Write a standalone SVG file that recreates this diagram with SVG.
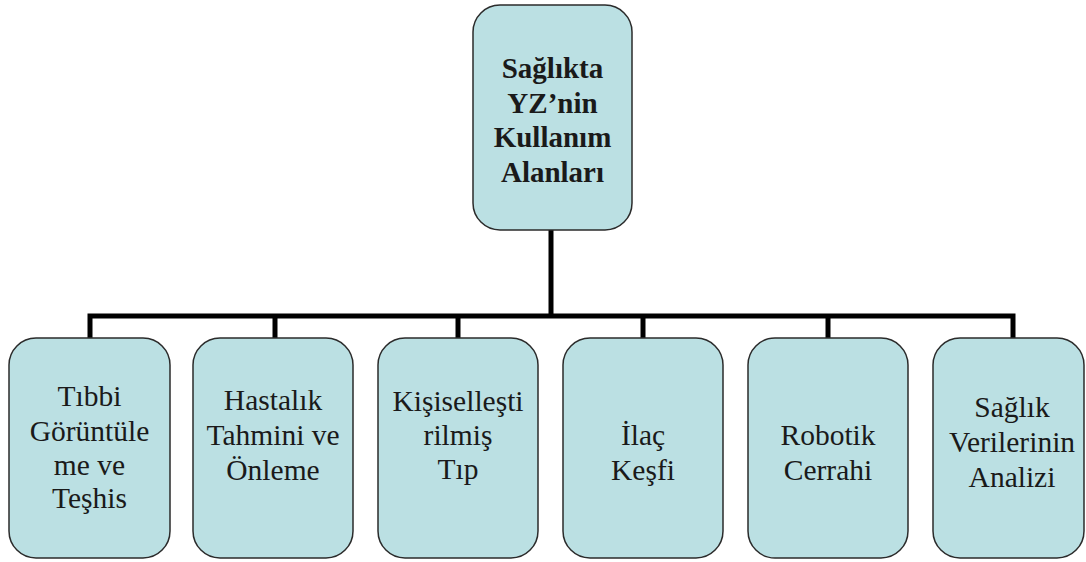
<svg xmlns="http://www.w3.org/2000/svg" width="1086" height="562" viewBox="0 0 1086 562">
  <style>
    .box { fill: #bbe0e3; stroke: #2b2b2b; stroke-width: 1.5; }
    .wire { fill: none; stroke: #000; stroke-width: 5; stroke-linecap: butt; stroke-linejoin: miter; }
    .label { font-family: 'Liberation Serif', 'DejaVu Serif', serif; font-size: 29.5px; fill: #1a1a1a; text-anchor: middle; }
    .title { font-family: 'Liberation Serif', 'DejaVu Serif', serif; font-size: 29px; font-weight: bold; fill: #1a1a1a; text-anchor: middle; }
  </style>

  <!-- connectors: trunk, horizontal bus and drops -->
  <g id="connectors">
    <path class="wire" d="M551 229 V316"/>
    <path class="wire" d="M90 338 V316 H1013 V338"/>
    <path class="wire" d="M275 316 V338"/>
    <path class="wire" d="M458 316 V338"/>
    <path class="wire" d="M643 316 V338"/>
    <path class="wire" d="M828 316 V338"/>
  </g>

  <!-- root node -->
  <g id="root">
    <rect class="box" x="473" y="5" width="159" height="225" rx="27" ry="27"/>
    <text class="title" x="552.5" y="78">Sağlıkta</text>
    <text class="title" x="552.5" y="113">YZ’nin</text>
    <text class="title" x="552.5" y="147">Kullanım</text>
    <text class="title" x="552.5" y="182">Alanları</text>
  </g>

  <g id="goruntuleme">
    <rect class="box" x="9" y="338" width="161" height="220" rx="27" ry="27"/>
    <text class="label" x="89.5" y="406">Tıbbi</text>
    <text class="label" x="89.5" y="441">Görüntüle</text>
    <text class="label" x="89.5" y="475">me ve</text>
    <text class="label" x="89.5" y="508">Teşhis</text>
  </g>

  <g id="hastalik">
    <rect class="box" x="193" y="338" width="160" height="220" rx="27" ry="27"/>
    <text class="label" x="273" y="410">Hastalık</text>
    <text class="label" x="273" y="445">Tahmini ve</text>
    <text class="label" x="273" y="480">Önleme</text>
  </g>

  <g id="kisisel">
    <rect class="box" x="378" y="338" width="160" height="220" rx="27" ry="27"/>
    <text class="label" x="458" y="411">Kişiselleşti</text>
    <text class="label" x="458" y="445">rilmiş</text>
    <text class="label" x="458" y="479">Tıp</text>
  </g>

  <g id="ilac">
    <rect class="box" x="563" y="338" width="160" height="220" rx="27" ry="27"/>
    <text class="label" x="643" y="445">İlaç</text>
    <text class="label" x="643" y="480">Keşfi</text>
  </g>

  <g id="robotik">
    <rect class="box" x="748" y="338" width="160" height="220" rx="27" ry="27"/>
    <text class="label" x="828" y="445">Robotik</text>
    <text class="label" x="828" y="480">Cerrahi</text>
  </g>

  <g id="veri">
    <rect class="box" x="933" y="338" width="151" height="220" rx="27" ry="27"/>
    <text class="label" x="1012" y="417">Sağlık</text>
    <text class="label" x="1012" y="452">Verilerinin</text>
    <text class="label" x="1012" y="487">Analizi</text>
  </g>
</svg>
